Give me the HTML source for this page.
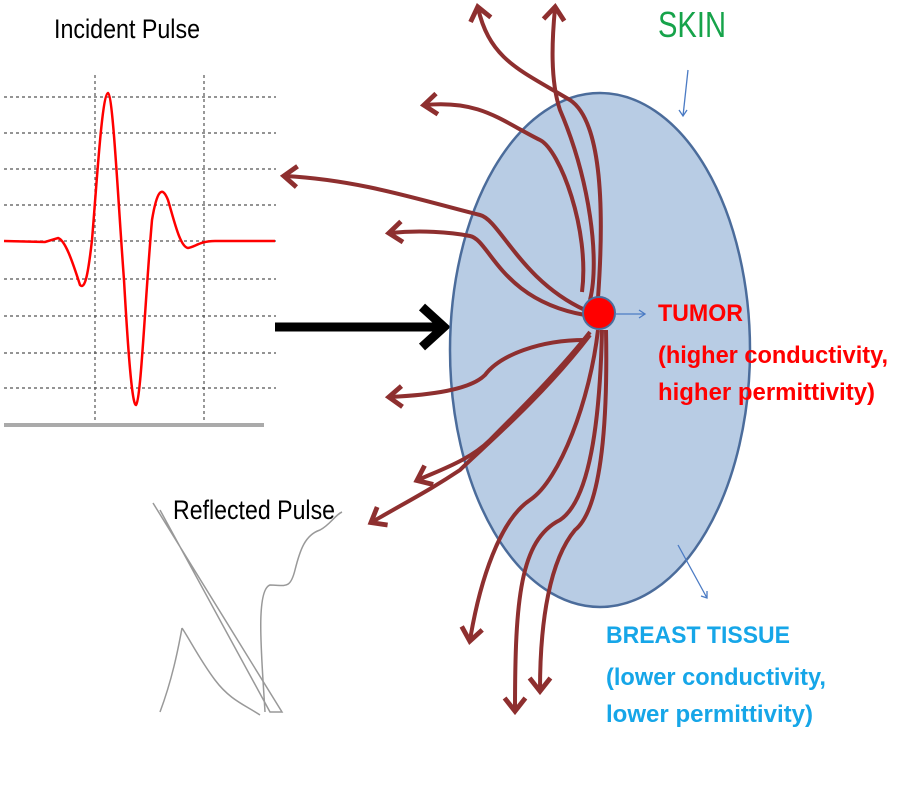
<!DOCTYPE html>
<html><head><style>
body{margin:0;width:900px;height:800px;background:#fff;overflow:hidden;font-family:"Liberation Sans",sans-serif}
svg{position:absolute;left:0;top:0}
</style></head><body>
<svg width="900" height="800" viewBox="0 0 900 800">
<defs>
<marker id="ah" markerWidth="6" markerHeight="6" refX="4" refY="3" orient="auto" markerUnits="strokeWidth" overflow="visible">
<path d="M1,0.4 L4.3,3 L1,5.6" fill="none" stroke="#8e2f2f" stroke-width="1.2"/>
</marker>
</defs>
<g stroke="#555" stroke-width="1.2" stroke-dasharray="3,3">
<line x1="4" y1="97" x2="276" y2="97"/><line x1="4" y1="133" x2="276" y2="133"/>
<line x1="4" y1="169" x2="276" y2="169"/><line x1="4" y1="205" x2="276" y2="205"/>
<line x1="4" y1="241" x2="276" y2="241"/><line x1="4" y1="279" x2="276" y2="279"/>
<line x1="4" y1="316" x2="276" y2="316"/><line x1="4" y1="353" x2="276" y2="353"/>
<line x1="4" y1="388" x2="276" y2="388"/>
<line x1="95" y1="75" x2="95" y2="428"/><line x1="204" y1="75" x2="204" y2="428"/>
</g>
<line x1="4" y1="425" x2="264" y2="425" stroke="#aaa" stroke-width="4"/>
<path d="M4,241 L45,242 L58,238 C65,240 72,260 80,285 C85,290 88,275 92,240 C97,180 102,95 108,93 C113,95 118,200 124,280 C128,350 132,405 136,405 C141,400 145,300 152,220 C157,190 162,185 168,200 C174,220 180,247 188,248 C195,247 200,241 215,241 L275,241" fill="none" stroke="#f00" stroke-width="2.5"/>
<text x="54" y="38" font-size="27" fill="#000" textLength="146" lengthAdjust="spacingAndGlyphs">Incident Pulse</text>
<g fill="none" stroke="#999" stroke-width="1.5">
<path d="M153,503 L282,712 L270,712 L160,510"/>
<path d="M182,628 C190,640 200,660 215,680 C230,700 245,705 260,715 M182,628 C178,650 172,680 160,712"/>
<path d="M265,712 C262,660 255,590 270,585 C285,585 290,590 295,570 C300,550 305,535 320,530 C330,525 335,515 342,512"/>
</g>
<text x="173" y="519" font-size="27" fill="#000" textLength="162" lengthAdjust="spacingAndGlyphs">Reflected Pulse</text>
<line x1="275" y1="327" x2="440" y2="327" stroke="#000" stroke-width="9"/>
<path d="M422,307 L444,327 L422,347" fill="none" stroke="#000" stroke-width="9"/>
<ellipse cx="600" cy="350" rx="150" ry="257" fill="#b8cce4" stroke="#4b6c9b" stroke-width="2.5"/>
<g fill="none" stroke="#8e2f2f" stroke-width="4" marker-end="url(#ah)">
<path d="M590,300 C600,260 590,180 560,110 C550,80 552,40 555,8"/>
<path d="M598,298 C605,200 600,120 570,100 C520,70 490,60 478,8"/>
<path d="M582,292 C590,230 560,150 540,140 C500,120 480,100 425,105"/>
<path d="M585,310 C520,280 500,220 480,215 C420,200 360,180 285,176"/>
<path d="M585,315 C500,300 490,240 470,236 C450,232 420,230 390,233"/>
<path d="M585,340 C540,340 500,355 485,375 C470,390 430,395 390,397"/>
<path d="M590,332 C560,370 520,410 490,440 C470,460 440,470 418,480"/>
<path d="M590,335 C540,400 480,450 460,470 C430,490 410,500 372,522"/>
<path d="M598,330 C590,400 560,480 530,500 C500,520 480,580 470,640"/>
<path d="M602,330 C600,420 590,500 560,520 C520,540 515,600 515,710"/>
<path d="M606,330 C608,430 600,510 575,530 C550,560 540,620 540,690"/>
</g>
<circle cx="599" cy="313" r="16" fill="#f00" stroke="#4b6c9b" stroke-width="2"/>
<g stroke="#4b7bc4" stroke-width="1.3" fill="none">
<line x1="615" y1="314" x2="645" y2="314"/><path d="M639,310 L645,314 L639,318"/>
<line x1="688" y1="70" x2="683" y2="116"/><path d="M679,110 L683,116 L687,110"/>
<line x1="678" y1="545" x2="707" y2="598"/><path d="M701,596 L707,598 L707,591"/>
</g>
<text x="658" y="37" font-size="36" fill="#16a34a" textLength="68" lengthAdjust="spacingAndGlyphs">SKIN</text>
<g font-weight="bold" font-size="24" fill="#f00">
<text x="658" y="321" textLength="85" lengthAdjust="spacingAndGlyphs">TUMOR</text>
<text x="658" y="363" textLength="230" lengthAdjust="spacingAndGlyphs">(higher conductivity,</text>
<text x="658" y="400" textLength="217" lengthAdjust="spacingAndGlyphs">higher permittivity)</text>
</g>
<g font-weight="bold" font-size="24" fill="#16a6e8">
<text x="606" y="643" textLength="184" lengthAdjust="spacingAndGlyphs">BREAST TISSUE</text>
<text x="606" y="685" textLength="220" lengthAdjust="spacingAndGlyphs">(lower conductivity,</text>
<text x="606" y="722" textLength="207" lengthAdjust="spacingAndGlyphs">lower permittivity)</text>
</g>
</svg>
</body></html>
